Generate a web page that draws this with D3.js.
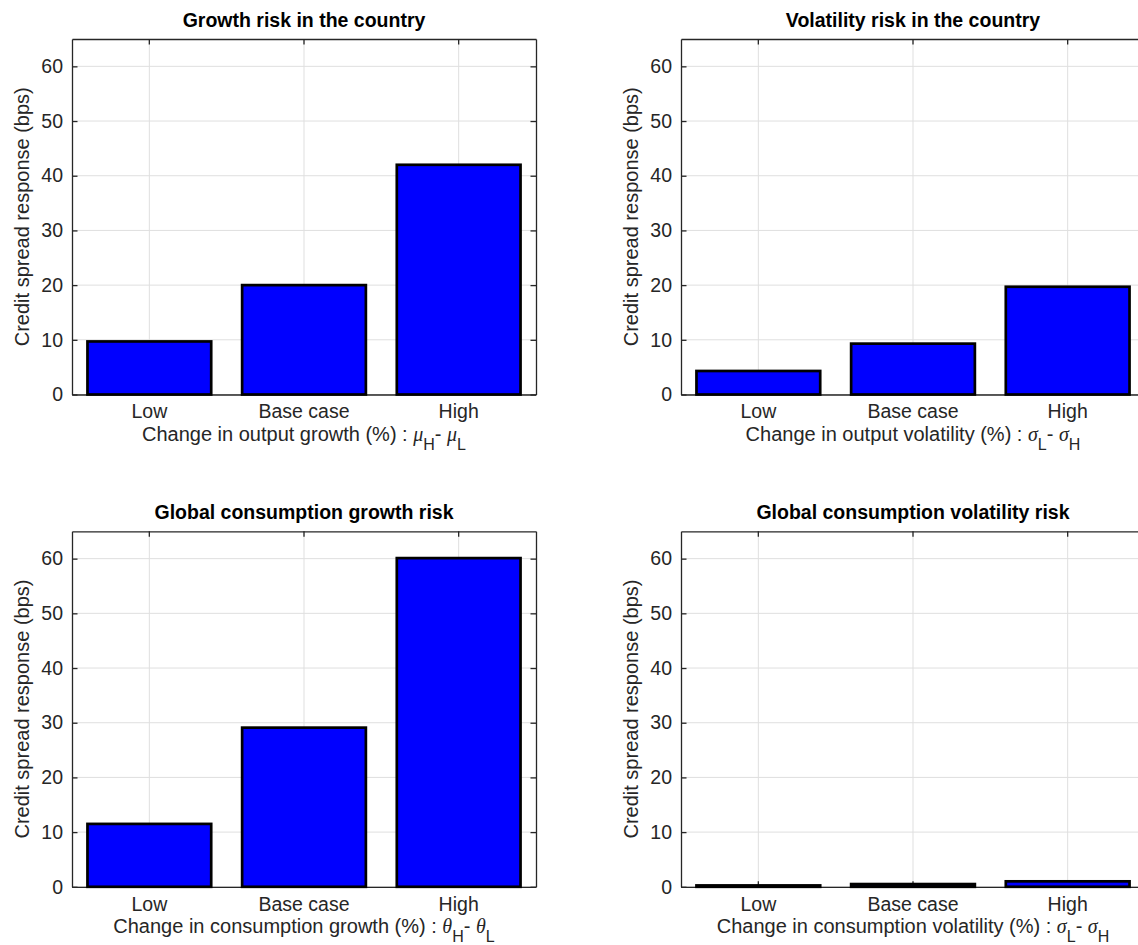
<!DOCTYPE html>
<html>
<head>
<meta charset="utf-8">
<script src="https://cdn.jsdelivr.net/npm/d3@7"></script>
<style>
  html, body { margin: 0; padding: 0; background: #fff; }
  svg { display: block; font-family: "Liberation Sans", Arial, Helvetica, sans-serif; }
</style>
</head>
<body>
<svg id="fig" width="1138" height="945"></svg>
<script>
// Scenario categories shared by every panel
const categories = ["Low", "Base case", "High"];

// Credit spread response (bps) per scenario
const growthCountry     = [9.7, 20.0, 42.0];
const volatilityCountry = [4.3, 9.3, 19.7];
const globalGrowth      = [11.5, 29.1, 60.1];
const globalVolatility  = [0.25, 0.5, 1.0];

const yTicks = [0, 10, 20, 30, 40, 50, 60];
const yMax = 65;

const titles = [
  "Growth risk in the country",
  "Volatility risk in the country",
  "Global consumption growth risk",
  "Global consumption volatility risk"
];
const xLabelTexts = [
  "Change in output growth (%) : ",
  "Change in output volatility (%) : ",
  "Change in consumption growth (%) : ",
  "Change in consumption volatility (%) : "
];
// Greek symbol and subscript pairs appended to each x label
const xLabelSymbols = [
  [["μ", "H"], ["μ", "L"]],
  [["σ", "L"], ["σ", "H"]],
  [["θ", "H"], ["θ", "L"]],
  [["σ", "L"], ["σ", "H"]]
];
const yLabel = "Credit spread response (bps)";
const seriesList = [growthCountry, volatilityCountry, globalGrowth, globalVolatility];

// Layout of the 2x2 grid of axes
const colX = [72, 681];
const rowY = [39, 531.3];
const pw = 464, ph = 355.5;

const AXIS = "#262626", GRID = "#dfdfdf", BAR = "#0000ff";
const TICK_FS = "19.5px", LABEL_FS = "20px", TITLE_FS = "19.5px";

const svg = d3.select("#fig");
svg.append("rect").attr("width", 1138).attr("height", 945).attr("fill", "#fff");

seriesList.forEach((values, i) => {
  const col = i % 2, row = Math.floor(i / 2);
  const g = svg.append("g").attr("transform", `translate(${colX[col]},${rowY[row]})`);

  const x = d3.scaleBand().domain(categories).range([0, pw])
    .paddingInner(0.2).paddingOuter(0.1);
  const y = d3.scaleLinear().domain([0, yMax]).range([ph, 0]);
  const cx = d => x(d) + x.bandwidth() / 2;

  // grid
  g.append("g").selectAll("line").data(yTicks).join("line")
    .attr("x1", 0).attr("x2", pw).attr("y1", d => y(d)).attr("y2", d => y(d))
    .attr("stroke", GRID).attr("stroke-width", 1);
  g.append("g").selectAll("line").data(categories).join("line")
    .attr("x1", cx).attr("x2", cx).attr("y1", 0).attr("y2", ph)
    .attr("stroke", GRID).attr("stroke-width", 1);

  // axes with inward ticks on all four sides
  const styleAxis = sel => {
    sel.selectAll("path.domain").attr("stroke", AXIS).attr("stroke-width", 1.3);
    sel.selectAll(".tick line").attr("stroke", AXIS).attr("stroke-width", 1.3);
    sel.selectAll(".tick text").attr("fill", AXIS).style("font-size", TICK_FS)
      .style("font-family", '"Liberation Sans", Arial, sans-serif');
  };
  g.append("g")
    .call(d3.axisLeft(y).tickValues(yTicks).tickSize(-5.5).tickSizeOuter(0).tickPadding(9))
    .call(styleAxis);
  g.append("g").attr("transform", `translate(${pw},0)`)
    .call(d3.axisRight(y).tickValues(yTicks).tickSize(-5.5).tickSizeOuter(0).tickFormat(""))
    .call(styleAxis);
  g.append("g")
    .call(d3.axisTop(x).tickSize(-5.5).tickSizeOuter(0).tickFormat(""))
    .call(styleAxis);
  g.append("g").attr("transform", `translate(0,${ph})`)
    .call(d3.axisBottom(x).tickSize(-5.5).tickSizeOuter(0).tickPadding(10))
    .call(styleAxis);

  // bars
  g.append("g").selectAll("rect").data(values).join("rect")
    .attr("x", (d, k) => x(categories[k]))
    .attr("width", x.bandwidth())
    .attr("y", d => y(d))
    .attr("height", d => ph - y(d))
    .attr("fill", BAR)
    .attr("stroke", "#000")
    .attr("stroke-width", 2.7);

  // title
  g.append("text").attr("x", pw / 2).attr("y", -12)
    .attr("text-anchor", "middle").attr("fill", "#000")
    .style("font-size", TITLE_FS).style("font-weight", "bold")
    .text(titles[i]);

  // y label
  g.append("text")
    .attr("transform", `translate(-43,${ph / 2}) rotate(-90)`)
    .attr("text-anchor", "middle").attr("fill", AXIS)
    .style("font-size", LABEL_FS)
    .text(yLabel);

  // x label with Greek symbols and subscripts
  const xl = g.append("text").attr("x", pw / 2).attr("y", ph + 46)
    .attr("text-anchor", "middle").attr("fill", AXIS)
    .style("font-size", LABEL_FS);
  xl.append("tspan").text(xLabelTexts[i]);
  const [[g1, s1], [g2, s2]] = xLabelSymbols[i];
  xl.append("tspan").style("font-family", '"Liberation Serif", "Times New Roman", serif')
    .style("font-style", "italic").text(g1);
  xl.append("tspan").attr("dy", 9).style("font-size", "16px").text(s1);
  xl.append("tspan").attr("dy", -9).text("- ");
  xl.append("tspan").style("font-family", '"Liberation Serif", "Times New Roman", serif')
    .style("font-style", "italic").text(g2);
  xl.append("tspan").attr("dy", 9).style("font-size", "16px").text(s2);
});
</script>
</body>
</html>
